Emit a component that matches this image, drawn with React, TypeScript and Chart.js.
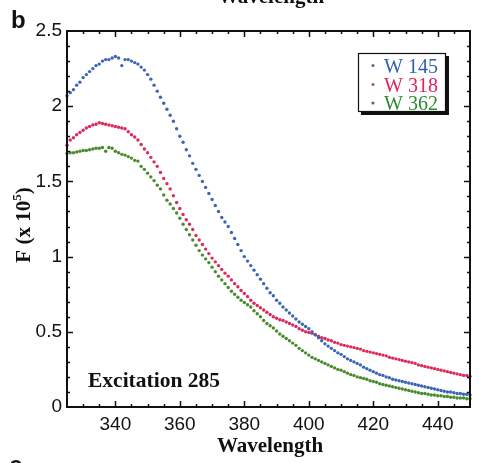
import React, { useEffect, useRef } from "react";
import { Chart, registerables } from "chart.js";
Chart.register(...registerables);

const wavelengths = [
  325, 326, 327, 328, 329, 330, 331, 332, 333, 334, 335, 336, 337, 338, 339, 340, 341, 342, 343, 344,
  345, 346, 347, 348, 349, 350, 351, 352, 353, 354, 355, 356, 357, 358, 359, 360, 361, 362, 363, 364,
  365, 366, 367, 368, 369, 370, 371, 372, 373, 374, 375, 376, 377, 378, 379, 380, 381, 382, 383, 384,
  385, 386, 387, 388, 389, 390, 391, 392, 393, 394, 395, 396, 397, 398, 399, 400, 401, 402, 403, 404,
  405, 406, 407, 408, 409, 410, 411, 412, 413, 414, 415, 416, 417, 418, 419, 420, 421, 422, 423, 424,
  425, 426, 427, 428, 429, 430, 431, 432, 433, 434, 435, 436, 437, 438, 439, 440, 441, 442, 443, 444,
  445, 446, 447, 448, 449, 450,
];

const w145 = [
  2.07, 2.09, 2.11, 2.14, 2.16, 2.19, 2.21, 2.23, 2.25, 2.27, 2.28, 2.3, 2.31, 2.31, 2.32, 2.33, 2.32, 2.27, 2.31, 2.31,
  2.3, 2.29, 2.28, 2.26, 2.24, 2.21, 2.18, 2.14, 2.1, 2.06, 2.02, 1.98, 1.94, 1.9, 1.85, 1.8, 1.76, 1.71, 1.67, 1.62,
  1.58, 1.54, 1.5, 1.46, 1.42, 1.38, 1.34, 1.3, 1.26, 1.23, 1.2, 1.16, 1.12, 1.08, 1.04, 1.0, 0.97, 0.94, 0.91, 0.88,
  0.85, 0.82, 0.79, 0.76, 0.74, 0.71, 0.69, 0.665, 0.645, 0.625, 0.605, 0.585, 0.565, 0.55, 0.535, 0.52, 0.5, 0.48, 0.46, 0.44,
  0.42, 0.405, 0.39, 0.375, 0.36, 0.35, 0.335, 0.32, 0.31, 0.3, 0.29, 0.28, 0.265, 0.255, 0.245, 0.235, 0.225, 0.215, 0.21, 0.2,
  0.195, 0.185, 0.18, 0.175, 0.17, 0.165, 0.16, 0.155, 0.15, 0.145, 0.14, 0.135, 0.13, 0.125, 0.12, 0.115, 0.11, 0.105, 0.1, 0.1,
  0.095, 0.09, 0.09, 0.085, 0.085, 0.08,
];

const w318 = [
  1.74, 1.775, 1.79, 1.81, 1.825, 1.84, 1.855, 1.865, 1.875, 1.88, 1.89, 1.885, 1.88, 1.875, 1.87, 1.865, 1.86, 1.855, 1.85, 1.83,
  1.81, 1.795, 1.775, 1.745, 1.715, 1.69, 1.66, 1.63, 1.6, 1.56, 1.52, 1.485, 1.45, 1.405, 1.36, 1.32, 1.28, 1.245, 1.215, 1.18,
  1.14, 1.11, 1.08, 1.05, 1.02, 0.99, 0.965, 0.94, 0.915, 0.89, 0.87, 0.845, 0.82, 0.8, 0.775, 0.755, 0.735, 0.71, 0.69, 0.675,
  0.66, 0.645, 0.63, 0.615, 0.6, 0.59, 0.58, 0.575, 0.565, 0.555, 0.545, 0.535, 0.52, 0.51, 0.5, 0.495, 0.49, 0.48, 0.47, 0.46,
  0.455, 0.445, 0.44, 0.43, 0.425, 0.415, 0.41, 0.405, 0.4, 0.395, 0.39, 0.385, 0.375, 0.37, 0.365, 0.36, 0.355, 0.35, 0.345, 0.34,
  0.33, 0.325, 0.32, 0.315, 0.31, 0.305, 0.3, 0.295, 0.29, 0.28, 0.275, 0.27, 0.265, 0.26, 0.255, 0.25, 0.245, 0.24, 0.235, 0.23,
  0.225, 0.22, 0.215, 0.21, 0.21, 0.205,
];

const w362 = [
  1.685, 1.69, 1.69, 1.695, 1.7, 1.705, 1.705, 1.71, 1.715, 1.72, 1.72, 1.725, 1.7, 1.725, 1.72, 1.7, 1.69, 1.68, 1.675, 1.665,
  1.655, 1.64, 1.635, 1.6, 1.58, 1.555, 1.53, 1.505, 1.475, 1.45, 1.41, 1.375, 1.35, 1.32, 1.29, 1.255, 1.215, 1.18, 1.145, 1.11,
  1.075, 1.04, 1.01, 0.985, 0.96, 0.93, 0.9, 0.87, 0.845, 0.82, 0.795, 0.77, 0.75, 0.73, 0.71, 0.695, 0.68, 0.665, 0.64, 0.62,
  0.6, 0.575, 0.555, 0.54, 0.525, 0.505, 0.485, 0.47, 0.455, 0.44, 0.425, 0.41, 0.39, 0.375, 0.36, 0.345, 0.33, 0.32, 0.31, 0.3,
  0.29, 0.28, 0.27, 0.26, 0.25, 0.245, 0.235, 0.225, 0.215, 0.21, 0.2, 0.195, 0.19, 0.185, 0.175, 0.17, 0.165, 0.155, 0.15, 0.145,
  0.14, 0.135, 0.13, 0.125, 0.12, 0.115, 0.11, 0.105, 0.1, 0.095, 0.09, 0.09, 0.085, 0.08, 0.08, 0.075, 0.075, 0.07, 0.07, 0.065,
  0.065, 0.06, 0.06, 0.06, 0.055, 0.055,
];

const seriesNames = ["W 145", "W 318", "W 362"];
const seriesColors = ["#3b66b5", "#dc2a5a", "#4a8c2c"];
const legendTextColors = ["#2f5fae", "#e0245a", "#2e8a2e"];
const legendDotColors = ["#5a6f96", "#a0607a", "#666666"];
const xLabeled = [340, 360, 380, 400, 420, 440];

const SERIF = "'Liberation Serif', 'Times New Roman', serif";
const SANS = "'Liberation Sans', Arial, sans-serif";

const decorPlugin = {
  id: "decor",
  afterDraw(chart: any) {
    const ctx = chart.ctx as CanvasRenderingContext2D;
    const { left, right, top, bottom } = chart.chartArea;
    const xs = chart.scales.x;
    const ys = chart.scales.y;
    ctx.save();
    // frame
    ctx.strokeStyle = "#111";
    ctx.lineWidth = 2;
    ctx.strokeRect(left, top, right - left, bottom - top);
    // inward ticks
    ctx.lineWidth = 1.5;
    ctx.beginPath();
    xs.ticks.forEach((t: any) => {
      const v = t.value;
      if (v <= xs.min || v >= xs.max) return;
      const px = Math.round(xs.getPixelForValue(v)) + 0.5;
      const len = Math.abs(v % 20) < 1e-6 ? 6 : 3;
      ctx.moveTo(px, bottom);
      ctx.lineTo(px, bottom - len);
      ctx.moveTo(px, top);
      ctx.lineTo(px, top + len);
    });
    ys.ticks.forEach((t: any) => {
      const v = t.value;
      if (v <= ys.min + 1e-6 || v >= ys.max - 1e-6) return;
      const py = Math.round(ys.getPixelForValue(v)) + 0.5;
      const major = Math.round(v * 10) % 5 === 0;
      const len = major ? 6 : 3;
      ctx.moveTo(left, py);
      ctx.lineTo(left + len, py);
      ctx.moveTo(right, py);
      ctx.lineTo(right - len, py);
    });
    ctx.stroke();

    // panel letter b
    ctx.fillStyle = "#111";
    ctx.font = `bold 24px ${SANS}`;
    ctx.textAlign = "left";
    ctx.textBaseline = "alphabetic";
    ctx.fillText("b", 11, 28);
    // cut "c" at bottom
    ctx.fillText("c", 9, 473);

    // cut previous-panel title at top
    ctx.font = `bold 21px ${SERIF}`;
    ctx.textAlign = "center";
    ctx.fillText("Wavelength", 271, 3);
    // x-axis title
    ctx.fillText("Wavelength", 270, 452);

    // annotation
    ctx.textAlign = "left";
    ctx.font = `bold 21.5px ${SERIF}`;
    ctx.fillText("Excitation 285", 88, 387);

    // y-axis title  F (x 10^5)
    ctx.save();
    ctx.translate(30, 225);
    ctx.rotate(-Math.PI / 2);
    const fMain = `bold 21px ${SERIF}`;
    const fSup = `bold 13px ${SERIF}`;
    ctx.font = fMain;
    const a = "F (x 10";
    const wa = ctx.measureText(a).width;
    const wc = ctx.measureText(")").width;
    ctx.font = fSup;
    const wb = ctx.measureText("5").width;
    const total = wa + wb + wc;
    let x0 = -total / 2;
    ctx.textAlign = "left";
    ctx.font = fMain;
    ctx.fillText(a, x0, 0);
    ctx.font = fSup;
    ctx.fillText("5", x0 + wa, -9);
    ctx.font = fMain;
    ctx.fillText(")", x0 + wa + wb, 0);
    ctx.restore();

    // legend box with drop shadow
    const bx = 358, by = 53, bw = 88, bh = 59;
    ctx.fillStyle = "#111";
    ctx.fillRect(bx + 3, by + 3, bw, bh);
    ctx.fillStyle = "#fff";
    ctx.fillRect(bx, by, bw, bh);
    ctx.strokeStyle = "#111";
    ctx.lineWidth = 1.2;
    ctx.strokeRect(bx + 0.5, by + 0.5, bw - 1, bh - 1);
    ctx.font = `20px ${SERIF}`;
    const baselines = [72.5, 91.5, 110];
    seriesNames.forEach((name, i) => {
      ctx.fillStyle = legendDotColors[i];
      ctx.beginPath();
      ctx.arc(373, baselines[i] - 7, 1.6, 0, Math.PI * 2);
      ctx.fill();
      ctx.fillStyle = legendTextColors[i];
      ctx.fillText(name, 384, baselines[i]);
    });
    ctx.restore();
  },
};

export default function App() {
  const ref = useRef<HTMLCanvasElement | null>(null);
  useEffect(() => {
    if (!ref.current) return;
    const seriesValues = [w145, w318, w362];
    const chart = new Chart(ref.current, {
      type: "scatter",
      data: {
        datasets: seriesValues.map((vals, i) => ({
          label: seriesNames[i],
          data: wavelengths.map((w, j) => ({ x: w, y: vals[j] })),
          backgroundColor: seriesColors[i],
          borderColor: seriesColors[i],
          pointRadius: 1.7,
          pointBorderWidth: 0,
          showLine: false,
          clip: false as any,
        })),
      },
      options: {
        responsive: false,
        animation: false,
        devicePixelRatio: 1,
        layout: { padding: { top: 31, right: 9, left: 0, bottom: 0 } },
        plugins: { legend: { display: false }, tooltip: { enabled: false }, title: { display: false } },
        scales: {
          x: {
            type: "linear",
            min: 325,
            max: 450,
            grid: { display: false, drawTicks: false },
            border: { display: false },
            afterFit: (s: any) => { s.height = 56; },
            ticks: {
              stepSize: 5,
              autoSkip: false,
              maxRotation: 0,
              padding: 6,
              color: "#111",
              font: { family: SANS, size: 19 },
              callback: (v: any) => (xLabeled.includes(Number(v)) ? String(v) : ""),
            },
          },
          y: {
            type: "linear",
            min: 0,
            max: 2.5,
            grid: { display: false, drawTicks: false },
            border: { display: false },
            afterFit: (s: any) => { s.width = 67; },
            ticks: {
              stepSize: 0.1,
              autoSkip: false,
              padding: 5,
              color: "#111",
              font: { family: SANS, size: 19 },
              callback: (v: any) => {
                const n = Number(v);
                return Math.round(n * 10) % 5 === 0 ? String(Number(n.toFixed(1))) : "";
              },
            },
          },
        },
      },
      plugins: [decorPlugin],
    });
    return () => chart.destroy();
  }, []);
  return (
    <div style={{ position: "absolute", left: 0, top: 0, width: 479, height: 463, background: "#fff" }}>
      <canvas ref={ref} width={479} height={463} style={{ display: "block", width: 479, height: 463 }} />
    </div>
  );
}
